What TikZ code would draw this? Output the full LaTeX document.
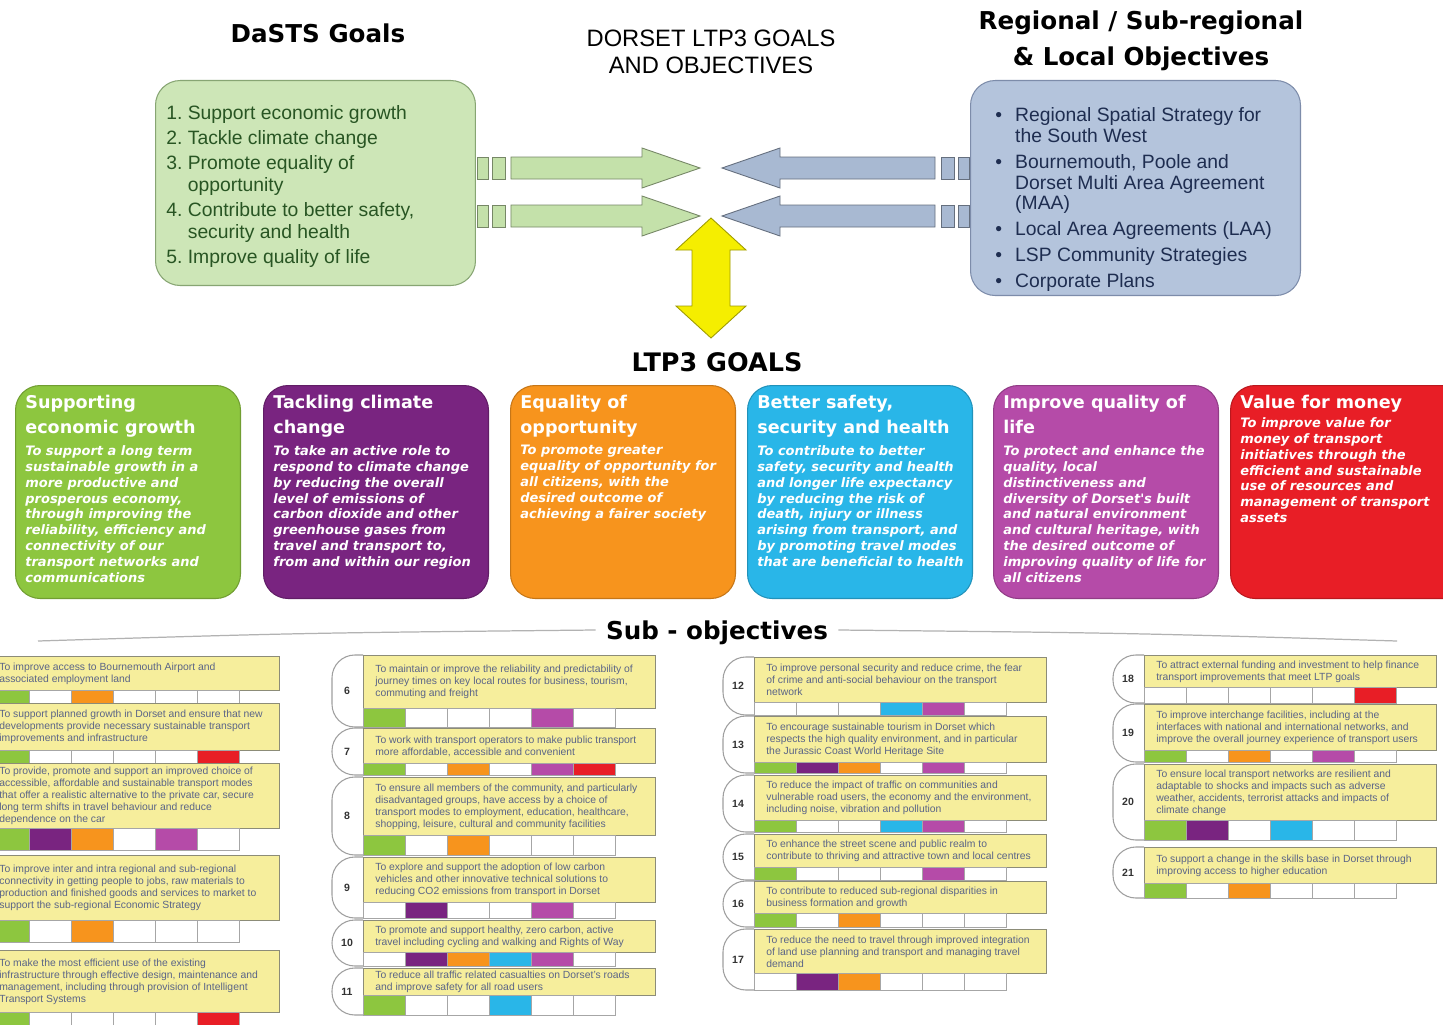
\documentclass[tikz,border=0pt]{standalone}
\usepackage{fontspec}
\setmainfont{Liberation Sans}
\newfontfamily\heavyfont{DejaVu Sans}
\usetikzlibrary{calc,positioning}

% goal colours
\definecolor{ltgreen}{RGB}{141,198,63}
\definecolor{ltpurple}{RGB}{121,36,128}
\definecolor{ltorange}{RGB}{247,148,29}
\definecolor{ltcyan}{RGB}{41,182,232}
\definecolor{ltmagenta}{RGB}{181,75,168}
\definecolor{ltred}{RGB}{232,30,38}
% top boxes and arrows
\definecolor{dastsfill}{RGB}{205,230,183}
\definecolor{dastsedge}{RGB}{135,165,115}
\definecolor{daststext}{RGB}{40,85,35}
\definecolor{regfill}{RGB}{180,196,220}
\definecolor{regedge}{RGB}{125,140,170}
\definecolor{regtext}{RGB}{30,45,80}
\definecolor{arrowgreen}{RGB}{196,225,170}
\definecolor{arrowblue}{RGB}{168,185,210}
\definecolor{arrowyellow}{RGB}{245,238,0}
% sub-objectives
\definecolor{subfill}{RGB}{246,238,156}
\definecolor{subedge}{RGB}{140,140,120}
\definecolor{subtext}{RGB}{90,100,135}

\tikzset{
  headline/.style={font=\heavyfont\bfseries\fontsize{14}{20.4}\selectfont, align=center, inner sep=0pt},
  topbox/.style={line width=0.6pt, rounded corners=14pt, anchor=north west, inner sep=0pt},
  listtext/.style={anchor=north west, align=left, inner sep=0pt},
  goalbox/.style={draw=#1!80!black, fill=#1, line width=0.6pt, rounded corners=14pt,
    minimum width=4.5cm, minimum height=4.26cm, anchor=north west, inner sep=0pt},
  goaltitle/.style={font=\heavyfont\bfseries\fontsize{10}{14.2}\selectfont, text=white,
    align=left, anchor=north west, inner sep=0pt},
  goalbody/.style={font=\heavyfont\bfseries\itshape\fontsize{7.4}{9.07}\selectfont, text=white,
    align=left, anchor=north west, inner sep=0pt},
  blockgreen/.style={draw=arrowgreen!60!black, fill=arrowgreen, line width=0.5pt},
  blockblue/.style={draw=arrowblue!60!black, fill=arrowblue, line width=0.5pt},
  blockyellow/.style={draw=arrowyellow!65!black, fill=arrowyellow, line width=0.5pt},
  swoosh/.style={draw=gray!60, line width=0.7pt},
  subbox/.style={draw=subedge, fill=subfill, line width=0.5pt, anchor=north west,
    minimum width=5.84cm, inner sep=0pt},
  subtextstyle/.style={font=\fontsize{5.9}{6.8}\selectfont, text=subtext, align=left,
    anchor=west, inner sep=0pt},
  subcell/.style={draw=gray!70, line width=0.4pt},
  subtab/.style={draw=gray!75, line width=0.6pt, rounded corners=13pt},
  subnum/.style={font=\bfseries\fontsize{6}{7}\selectfont, text=black!80, inner sep=0pt}
}

% block arrow: #1 tail, #2 tip, #3 direction (1 right, -1 left), #4 style
\newcommand{\blockarrow}[4]{%
  \filldraw[#4] ($(#1)+({1*#3},-11)$) rectangle ($(#1)+({12*#3},11)$);
  \filldraw[#4] ($(#1)+({16*#3},-11)$) rectangle ($(#1)+({29*#3},11)$);
  \filldraw[#4] ($(#1)+({35*#3},-11)$) -- ($(#2)+({-58*#3},-11)$) -- ($(#2)+({-58*#3},-20)$)
    -- (#2) -- ($(#2)+({-58*#3},20)$) -- ($(#2)+({-58*#3},11)$) -- ($(#1)+({35*#3},11)$) -- cycle;
}

% sub-objective: #1 name, #2 number, #3 left x, #4 top, #5 box bottom, #6 cell bottom,
% #7 goal colours, #8 text
\newcommand{\subobjective}[8]{%
  \draw[subtab] (#3,#4) -- (#3-31,#4) -- (#3-31,#6) -- (#3,#6);
  \node[subnum] (num#1) at ({#3-16},{(#4+#6)/2}) {#2};
  \node[subbox, minimum height={(#5-#4)*0.02cm}] (#1) at (#3,#4) {};
  \node[subtextstyle] (#1-text) at ([shift={(12,0)}]#1.west) {#8};
  \foreach \goalcol [count=\i from 0] in {#7}
    \draw[subcell, fill=\goalcol] ({#3+42*\i},#5) rectangle ({#3+42*\i+42},#6);
}

\newcommand{\regbullet}{\makebox[11.3pt][l]{\textbullet}}
\newcommand{\regindent}{\hspace*{11.3pt}}

\begin{document}
\begin{tikzpicture}[x=0.02cm, y=-0.02cm]
  \useasboundingbox (0,0) rectangle (1443,1024);
  \fill[white] (0,0) rectangle (1443,1024);

  % Headings
  \node[headline] (dastsTitle) at (318,33) {DaSTS Goals};
  \node[font=\fontsize{13.5}{15.3}\selectfont, align=center, inner sep=0pt] (dorsetTitle) at (711,52) {DORSET LTP3 GOALS\\AND OBJECTIVES};
  \node[headline] (regionalTitle) at (1141,41) {Regional / Sub-regional\\\& Local Objectives};

  % DaSTS goals
  \node[topbox, draw=dastsedge, fill=dastsfill, minimum width=6.4cm, minimum height=4.1cm] (dasts) at (155,80) {};
  \node[listtext, text=daststext, font=\fontsize{11}{12.5}\selectfont] (dastsList) at (166,105)
    {1.\ Support economic growth\\[1.7pt]
     2.\ Tackle climate change\\[1.7pt]
     3.\ Promote equality of\\
     \hphantom{3.\ }opportunity\\[1.7pt]
     4.\ Contribute to better safety,\\
     \hphantom{4.\ }security and health\\[1.7pt]
     5.\ Improve quality of life};

  % Regional / local objectives
  \node[topbox, draw=regedge, fill=regfill, minimum width=6.6cm, minimum height=4.3cm] (regional) at (970,80) {};
  \node[listtext, text=regtext, font=\fontsize{11}{11.9}\selectfont] (regionalList) at (995,107)
    {\regbullet Regional Spatial Strategy for\\
     \regindent the South West\\[2.8pt]
     \regbullet Bournemouth, Poole and\\
     \regindent Dorset Multi Area Agreement\\
     \regindent (MAA)\\[2.8pt]
     \regbullet Local Area Agreements (LAA)\\[2.8pt]
     \regbullet LSP Community Strategies\\[2.8pt]
     \regbullet Corporate Plans};

  % Arrows into the LTP3 goals
  \coordinate (meetU) at (711,168);
  \coordinate (meetL) at (711,216);
  \coordinate (gTailU) at (dasts.east |- meetU);
  \coordinate (gTailL) at (dasts.east |- meetL);
  \coordinate (bTailU) at (regional.west |- meetU);
  \coordinate (bTailL) at (regional.west |- meetL);
  \coordinate (gTipU) at ($(meetU)+(-11,0)$);
  \coordinate (gTipL) at ($(meetL)+(-11,0)$);
  \coordinate (bTipU) at ($(meetU)+(11,0)$);
  \coordinate (bTipL) at ($(meetL)+(11,0)$);
  \blockarrow{gTailU}{gTipU}{1}{blockgreen}
  \blockarrow{gTailL}{gTipL}{1}{blockgreen}
  \blockarrow{bTailU}{bTipU}{-1}{blockblue}
  \blockarrow{bTailL}{bTipL}{-1}{blockblue}

  % LTP3 goals
  \node[headline, font=\heavyfont\bfseries\fontsize{14.5}{17}\selectfont] (ltpTitle) at (717,362) {LTP3 GOALS};
  \coordinate (yTop) at ($(meetL)+(0,2)$);
  \coordinate (yBot) at (711,338);
  \filldraw[blockyellow] (yTop) -- ++(35,32) -- ++(-16,0) -- ($(yBot)+(19,-32)$) -- ++(16,0)
    -- (yBot) -- ++(-35,-32) -- ++(16,0) -- ($(yTop)+(-19,32)$) -- ++(-16,0) -- cycle;

  \node[goalbox=ltgreen] (growth) at (15,385) {};
  \node[goaltitle] (growthTitle) at ([shift={(10,10)}]growth.north west) {Supporting\\economic growth};
  \node[goalbody] (growthText) at ([shift={(10,60)}]growth.north west)
    {To support a long term\\sustainable growth in a\\more productive and\\prosperous economy,\\through improving the\\reliability, efficiency and\\connectivity of our\\transport networks and\\communications};

  \node[goalbox=ltpurple] (climate) at (263,385) {};
  \node[goaltitle] (climateTitle) at ([shift={(10,10)}]climate.north west) {Tackling climate\\change};
  \node[goalbody] (climateText) at ([shift={(10,60)}]climate.north west)
    {To take an active role to\\respond to climate change\\by reducing the overall\\level of emissions of\\carbon dioxide and other\\greenhouse gases from\\travel and transport to,\\from and within our region};

  \node[goalbox=ltorange] (equality) at (510,385) {};
  \node[goaltitle] (equalityTitle) at ([shift={(10,10)}]equality.north west) {Equality of\\opportunity};
  \node[goalbody] (equalityText) at ([shift={(10,60)}]equality.north west)
    {To promote greater\\equality of opportunity for\\all citizens, with the\\desired outcome of\\achieving a fairer society};

  \node[goalbox=ltcyan] (safety) at (747,385) {};
  \node[goaltitle] (safetyTitle) at ([shift={(10,10)}]safety.north west) {Better safety,\\security and health};
  \node[goalbody] (safetyText) at ([shift={(10,60)}]safety.north west)
    {To contribute to better\\safety, security and health\\and longer life expectancy\\by reducing the risk of\\death, injury or illness\\arising from transport, and\\by promoting travel modes\\that are beneficial to health};

  \node[goalbox=ltmagenta] (quality) at (993,385) {};
  \node[goaltitle] (qualityTitle) at ([shift={(10,10)}]quality.north west) {Improve quality of\\life};
  \node[goalbody] (qualityText) at ([shift={(10,60)}]quality.north west)
    {To protect and enhance the\\quality, local\\distinctiveness and\\diversity of Dorset's built\\and natural environment\\and cultural heritage, with\\the desired outcome of\\improving quality of life for\\all citizens};

  \node[goalbox=ltred, minimum width=4.8cm] (value) at (1230,385) {};
  \node[goaltitle] (valueTitle) at ([shift={(10,10)}]value.north west) {Value for money};
  \node[goalbody] (valueText) at ([shift={(10,32)}]value.north west)
    {To improve value for\\money of transport\\initiatives through the\\efficient and sustainable\\use of resources and\\management of transport\\assets};

  % Sub-objectives
  \node[headline] (subTitle) at (717,633) {Sub - objectives};
  \coordinate (swL) at (38,641);
  \coordinate (swR) at (1397,641);
  \draw[swoosh] (swL) .. controls (300,633) .. ([shift={(-10,-3)}]subTitle.west);
  \draw[swoosh] ([shift={(10,-3)}]subTitle.east) .. controls (1130,633) .. (swR);

  \subobjective{so1}{}{-13}{656}{690}{703}{ltgreen,white,ltorange,white,white,white}
    {To improve access to Bournemouth Airport and\\associated employment land}
  \subobjective{so2}{}{-13}{703}{750}{763}{ltgreen,white,white,white,white,ltred}
    {To support planned growth in Dorset and ensure that new\\developments provide necessary sustainable transport\\improvements  and infrastructure}
  \subobjective{so3}{}{-13}{763}{828}{850}{ltgreen,ltpurple,ltorange,white,ltmagenta,white}
    {To provide, promote and support an improved choice of\\accessible, affordable and sustainable transport modes\\that offer a realistic alternative to the private car, secure\\long term shifts in travel behaviour and reduce\\dependence on the car}
  \subobjective{so4}{}{-13}{855}{920}{942}{ltgreen,white,ltorange,white,white,white}
    {To improve inter and intra regional and sub-regional\\connectivity in getting people to jobs, raw materials to\\production and finished goods and services to market to\\support the sub-regional Economic Strategy}
  \subobjective{so5}{}{-13}{950}{1012}{1030}{ltgreen,white,white,white,white,ltred}
    {To make the most efficient use of the existing\\infrastructure through effective design, maintenance and\\management, including through provision of Intelligent\\Transport Systems}

  \subobjective{so6}{6}{363}{655}{708}{727}{ltgreen,white,white,white,ltmagenta,white}
    {To maintain or improve the reliability and predictability of\\journey times on key local routes for business, tourism,\\commuting and freight}
  \subobjective{so7}{7}{363}{728}{763}{775}{ltgreen,white,ltorange,white,ltmagenta,ltred}
    {To work with transport operators to make public transport\\more affordable, accessible and convenient}
  \subobjective{so8}{8}{363}{777}{835}{855}{ltgreen,white,ltorange,white,white,white}
    {To ensure all members of the community, and particularly\\disadvantaged groups, have access by a choice of\\transport modes  to employment, education, healthcare,\\shopping, leisure, cultural and community facilities}
  \subobjective{so9}{9}{363}{857}{902}{918}{white,ltpurple,white,white,ltmagenta,white}
    {To explore and support the adoption of low carbon\\vehicles and other innovative technical solutions to\\reducing CO2 emissions from transport in Dorset}
  \subobjective{so10}{10}{363}{920}{952}{966}{white,ltpurple,ltorange,ltcyan,ltmagenta,white}
    {To promote and support healthy, zero carbon, active\\travel including cycling and walking and Rights of Way}
  \subobjective{so11}{11}{363}{968}{995}{1015}{ltgreen,white,white,ltcyan,white,white}
    {To reduce all traffic related casualties on Dorset's roads\\and improve safety for all road users}

  \subobjective{so12}{12}{754}{657}{702}{715}{white,white,white,ltcyan,ltmagenta,white}
    {To improve personal security and reduce crime, the fear\\of crime and anti-social behaviour on the transport\\network}
  \subobjective{so13}{13}{754}{716}{762}{773}{ltgreen,ltpurple,ltorange,white,ltmagenta,white}
    {To encourage sustainable tourism in Dorset which\\respects the high quality environment, and in particular\\the Jurassic Coast World Heritage Site}
  \subobjective{so14}{14}{754}{775}{820}{832}{ltgreen,white,white,ltcyan,ltmagenta,white}
    {To reduce the impact of traffic on communities and\\vulnerable road users, the economy and the environment,\\including noise, vibration and pollution}
  \subobjective{so15}{15}{754}{834}{867}{880}{ltgreen,white,white,white,ltmagenta,white}
    {To enhance the street scene and public realm to\\contribute to thriving and attractive town and local centres}
  \subobjective{so16}{16}{754}{881}{913}{927}{ltgreen,white,ltorange,white,white,white}
    {To contribute to reduced sub-regional disparities in\\business formation and growth}
  \subobjective{so17}{17}{754}{929}{973}{990}{white,ltpurple,ltorange,white,white,white}
    {To reduce the need to travel through improved integration\\of land use planning and transport and managing travel\\demand}

  \subobjective{so18}{18}{1144}{655}{687}{703}{white,white,white,white,white,ltred}
    {To attract external funding and investment to help finance\\transport improvements that meet LTP goals}
  \subobjective{so19}{19}{1144}{704}{750}{762}{ltgreen,white,ltorange,white,ltmagenta,white}
    {To improve interchange facilities, including at the\\interfaces with national and international networks, and\\improve the overall journey experience of transport users}
  \subobjective{so20}{20}{1144}{764}{820}{840}{ltgreen,ltpurple,white,ltcyan,white,white}
    {To ensure local transport networks are resilient and\\adaptable to shocks and impacts such as adverse\\weather, accidents, terrorist attacks and impacts of\\climate change}
  \subobjective{so21}{21}{1144}{847}{883}{898}{ltgreen,white,ltorange,white,white,white}
    {To support a change in the skills base in Dorset through\\improving access to higher education}
\end{tikzpicture}
\end{document}
